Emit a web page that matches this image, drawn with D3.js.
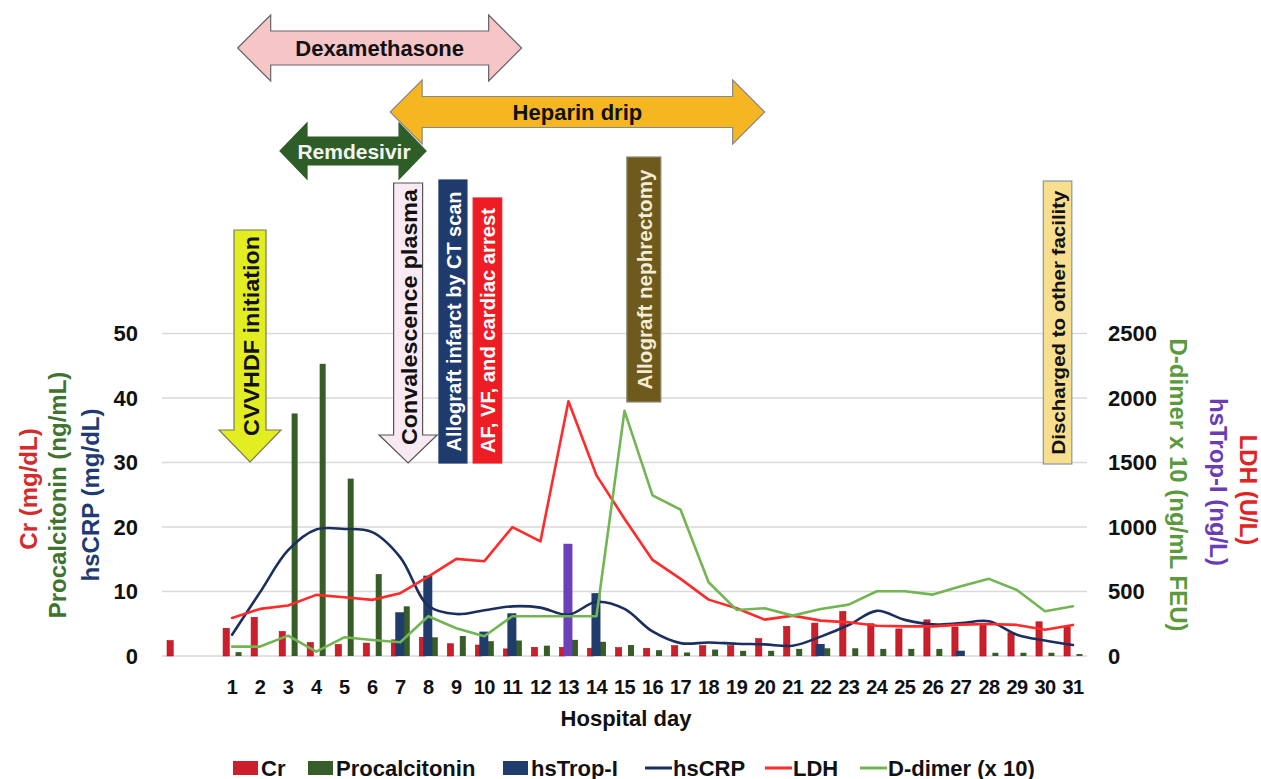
<!DOCTYPE html>
<html>
<head>
<meta charset="utf-8">
<script src="https://cdn.jsdelivr.net/npm/d3@7"></script>
<style>
  body { margin: 0; background: #fff; }
  svg text { font-family: "Liberation Sans", Arial, sans-serif; }
</style>
</head>
<body>
<svg id="chart" width="1261" height="779"></svg>
<script>
// ---------------- DATA ----------------
const categories = ["", " ", "1","2","3","4","5","6","7","8","9","10","11","12","13","14","15","16","17","18","19","20","21","22","23","24","25","26","27","28","29","30","31"];

// bar series (one value per category, null = no bar)
const crValues = [2.4, null, 4.3, 6.0, 3.8, 2.1, 1.8, 2.0, 2.5, 2.9, 1.9, 1.7, 1.1, 1.35, 1.35, 1.2, 1.3, 1.2, 1.6, 1.6, 1.6, 2.7, 4.6, 5.1, 6.9, 5.0, 4.2, 5.6, 4.5, 5.0, 3.6, 5.3, 4.6];
const procalcitoninValues = [null, null, 0.6, null, 37.6, 45.3, 27.5, 12.7, 7.7, 2.9, 3.1, 2.3, 2.4, 1.6, 2.5, 2.2, 1.7, 0.9, 0.55, 1.0, 0.8, 0.8, 1.1, 1.2, 1.2, 1.1, 1.1, 1.1, null, 0.5, 0.5, 0.5, 0.3];
const hsTropIValues = [null, null, null, null, null, null, null, null, 339, 623, null, 189, 331, null, 870, 487, null, null, null, null, null, null, null, 93, null, null, null, null, 41, null, null, null, null];
const hsTropIHighlightDay = "13";

// line series (days 1..31)
const lineDays = ["1","2","3","4","5","6","7","8","9","10","11","12","13","14","15","16","17","18","19","20","21","22","23","24","25","26","27","28","29","30","31"];
const hsCRPValues = [3.3, 9.9, 16.4, 19.6, 19.7, 19.2, 15.3, 7.8, 6.5, 7.1, 7.7, 7.5, 6.4, 8.4, 7.3, 3.8, 2.0, 2.1, 1.9, 1.8, 1.6, 3.0, 4.8, 7.0, 5.6, 4.9, 5.1, 5.4, 3.3, 2.4, 1.7];
const ldhValues = [295, 365, 391, 474, 456, 435, 487, 616, 753, 735, 999, 888, 1975, 1400, 1064, 745, 598, 437, 370, 282, 313, 274, 261, 235, 230, 230, 243, 248, 241, 204, 241];
const dDimerValues = [73, 73, 158, 34, 145, 124, 106, 308, 215, 153, 308, 308, 308, 308, 1900, 1245, 1134, 572, 357, 370, 313, 365, 398, 502, 502, 476, 541, 598, 512, 347, 386];

// axis ticks
const leftTicks = [0, 10, 20, 30, 40, 50];
const rightTicks = [0, 500, 1000, 1500, 2000, 2500];

// event annotations (day positions on the hospital-day axis)
const rangeEvents = [
  { label: "Dexamethasone", from: 1.2, to: 11.33 },
  { label: "Heparin drip", from: 6.64, to: 20.0 },
  { label: "Remdesivir", from: 2.71, to: 7.92 }
];
const pointEvents = [
  { label: "CVVHDF initiation", day: 1.64 },
  { label: "Convalescence plasma", day: 7.28 },
  { label: "Allograft infarct by CT scan", day: 8.88 },
  { label: "AF, VF, and cardiac arrest", day: 10.11 },
  { label: "Allograft nephrectomy", day: 15.69 },
  { label: "Discharged to other facility", day: 30.45 }
];

// ---------------- CHART ----------------
const svg = d3.select("#chart");
const plot = { left: 162, right: 1087, top: 333.5, bottom: 656 };

const x = d3.scaleBand().domain(categories).range([plot.left, plot.right]).paddingInner(0).paddingOuter(0);
const yL = d3.scaleLinear().domain([0, 50]).range([plot.bottom, plot.top]);
const yR = d3.scaleLinear().domain([0, 2500]).range([plot.bottom, plot.top]);
const cx = c => x(c) + x.bandwidth() / 2;
const dayX = d => cx("1") + (d - 1) * x.step();

// gridlines
svg.append("g").selectAll("line").data(leftTicks).join("line")
  .attr("x1", plot.left).attr("x2", plot.right)
  .attr("y1", d => yL(d)).attr("y2", d => yL(d))
  .attr("stroke", "#d9d9d9").attr("stroke-width", 1.3);

// left axis
const gL = svg.append("g").attr("transform", `translate(${plot.left - 24},0)`)
  .call(d3.axisLeft(yL).tickValues(leftTicks).tickFormat(d3.format("d")).tickSize(0).tickPadding(0));
gL.select(".domain").remove();
gL.selectAll("text").attr("font-size", 22).attr("font-weight", "bold").attr("fill", "#111")
  .attr("font-family", "Liberation Sans, Arial, sans-serif");

// right axis
const gR = svg.append("g").attr("transform", `translate(${plot.right + 21},0)`)
  .call(d3.axisRight(yR).tickValues(rightTicks).tickFormat(d3.format("d")).tickSize(0).tickPadding(0));
gR.select(".domain").remove();
gR.selectAll("text").attr("font-size", 22).attr("font-weight", "bold").attr("fill", "#111")
  .attr("font-family", "Liberation Sans, Arial, sans-serif");

// bottom axis
const gB = svg.append("g").attr("transform", `translate(0,${plot.bottom + 24})`)
  .call(d3.axisBottom(x).tickSize(0).tickPadding(0));
gB.select(".domain").remove();
gB.selectAll("text").attr("font-size", 20).attr("font-weight", "bold").attr("fill", "#111")
  .attr("font-family", "Liberation Sans, Arial, sans-serif").attr("letter-spacing", -0.6);

// axis titles
svg.append("text").attr("x", 626).attr("y", 726).attr("text-anchor", "middle")
  .attr("font-size", 22).attr("font-weight", "bold").attr("fill", "#111").text("Hospital day");

const leftTitles = [
  { t: "Cr (mg/dL)", x: 28, y: 489, c: "#d42a2a" },
  { t: "Procalcitonin (ng/mL)", x: 57, y: 495, c: "#3f7330" },
  { t: "hsCRP (mg/dL)", x: 90, y: 495, c: "#1f3b73" }
];
svg.append("g").selectAll("text").data(leftTitles).join("text")
  .attr("transform", d => `translate(${d.x},${d.y}) rotate(-90)`)
  .attr("text-anchor", "middle").attr("dominant-baseline", "central")
  .attr("font-size", 24).attr("font-weight", "bold").attr("fill", d => d.c).text(d => d.t);

const rightTitles = [
  { t: "D-dimer x 10 (ng/mL FEU)", x: 1178, y: 485, c: "#5a9a3c" },
  { t: "hsTrop-I (ng/L)", x: 1218, y: 482, c: "#6a3db5" },
  { t: "LDH (U/L)", x: 1248, y: 490, c: "#e02424" }
];
svg.append("g").selectAll("text").data(rightTitles).join("text")
  .attr("transform", d => `translate(${d.x},${d.y}) rotate(90)`)
  .attr("text-anchor", "middle").attr("dominant-baseline", "central")
  .attr("font-size", 24).attr("font-weight", "bold").attr("fill", d => d.c).text(d => d.t);

// ---------------- ANNOTATIONS ----------------
const ann = svg.append("g");

function hDoublePath(x1, x2, cy, bodyH, headH, headL) {
  const p = d3.path();
  p.moveTo(x1, cy);
  p.lineTo(x1 + headL, cy - headH / 2);
  p.lineTo(x1 + headL, cy - bodyH / 2);
  p.lineTo(x2 - headL, cy - bodyH / 2);
  p.lineTo(x2 - headL, cy - headH / 2);
  p.lineTo(x2, cy);
  p.lineTo(x2 - headL, cy + headH / 2);
  p.lineTo(x2 - headL, cy + bodyH / 2);
  p.lineTo(x1 + headL, cy + bodyH / 2);
  p.lineTo(x1 + headL, cy + headH / 2);
  p.closePath();
  return p.toString();
}
function vDownPath(cxp, top, tip, bodyW, headW, headL) {
  const p = d3.path();
  p.moveTo(cxp - bodyW / 2, top);
  p.lineTo(cxp + bodyW / 2, top);
  p.lineTo(cxp + bodyW / 2, tip - headL);
  p.lineTo(cxp + headW / 2, tip - headL);
  p.lineTo(cxp, tip);
  p.lineTo(cxp - headW / 2, tip - headL);
  p.lineTo(cxp - bodyW / 2, tip - headL);
  p.closePath();
  return p.toString();
}

const rangeStyles = {
  "Dexamethasone": { cy: 48, bodyH: 34, headH: 66, headL: 33, fill: "#f6c5c6", stroke: "#666", text: "#111", fs: 22 },
  "Heparin drip": { cy: 112, bodyH: 31, headH: 64, headL: 32, fill: "#f5b622", stroke: "#8a8a8a", text: "#111", fs: 22 },
  "Remdesivir": { cy: 151, bodyH: 28, headH: 56, headL: 27, fill: "#2f5d27", stroke: "#2f5d27", text: "#f4f4f4", fs: 21 }
};
rangeEvents.forEach(e => {
  const s = rangeStyles[e.label];
  const x1 = dayX(e.from), x2 = dayX(e.to);
  ann.append("path").attr("d", hDoublePath(x1, x2, s.cy, s.bodyH, s.headH, s.headL))
    .attr("fill", s.fill).attr("stroke", s.stroke).attr("stroke-width", 1.2);
  ann.append("text").attr("x", (x1 + x2) / 2 + (e.label === "Remdesivir" ? 1 : 0)).attr("y", s.cy)
    .attr("text-anchor", "middle").attr("dominant-baseline", "central")
    .attr("font-size", s.fs).attr("font-weight", "bold").attr("fill", s.text).text(e.label);
});

const pointStyles = {
  "CVVHDF initiation": { kind: "arrow", top: 230, tip: 462, bodyW: 32, headW: 62, headL: 32, fill: "#e3ee22", stroke: "#7a7a55", text: "#111", len: 200, fs: 22, weight: "bold" },
  "Convalescence plasma": { kind: "arrow", top: 183, tip: 463, bodyW: 29, headW: 58, headL: 28, fill: "#f8e9f2", stroke: "#555", text: "#111", len: 256, fs: 22, weight: "bold" },
  "Allograft infarct by CT scan": { kind: "rect", top: 180, bottom: 463, w: 28, fill: "#1f3b6e", stroke: "#1f3b6e", text: "#fff", len: 260, fs: 20, weight: "600" },
  "AF, VF, and cardiac arrest": { kind: "rect", top: 198, bottom: 463, w: 28.5, fill: "#ee1c25", stroke: "#ee1c25", text: "#fff", len: 245, fs: 20, weight: "600" },
  "Allograft nephrectomy": { kind: "rect", top: 157, bottom: 402, w: 34, fill: "#6e5a1c", stroke: "#8a8a70", text: "#f3ecd6", len: 220, fs: 20, weight: "600" },
  "Discharged to other facility": { kind: "rect", top: 181, bottom: 464, w: 28.5, fill: "#f8df8f", stroke: "#7f9aa8", text: "#111", len: 264, fs: 19, weight: "600" }
};
pointEvents.forEach(e => {
  const s = pointStyles[e.label];
  const px = dayX(e.day);
  let midY;
  if (s.kind === "arrow") {
    ann.append("path").attr("d", vDownPath(px, s.top, s.tip, s.bodyW, s.headW, s.headL))
      .attr("fill", s.fill).attr("stroke", s.stroke).attr("stroke-width", 1.2);
    midY = s.top + 6 + s.len / 2;
  } else {
    ann.append("rect").attr("x", px - s.w / 2).attr("y", s.top).attr("width", s.w).attr("height", s.bottom - s.top)
      .attr("fill", s.fill).attr("stroke", s.stroke).attr("stroke-width", 1.2);
    midY = (s.top + s.bottom) / 2;
  }
  ann.append("text").attr("transform", `translate(${px + 1},${midY}) rotate(-90)`)
    .attr("text-anchor", "middle").attr("dominant-baseline", "central")
    .attr("font-size", s.fs).attr("font-weight", s.weight).attr("fill", s.text)
    .attr("textLength", s.len).attr("lengthAdjust", "spacingAndGlyphs")
    .text(e.label);
});

// ---------------- BARS ----------------
const bars = svg.append("g");
const crData = categories.map((c, i) => ({ c, v: crValues[i] })).filter(d => d.v != null);
const pctData = categories.map((c, i) => ({ c, v: procalcitoninValues[i] })).filter(d => d.v != null);
const tropData = categories.map((c, i) => ({ c, v: hsTropIValues[i] })).filter(d => d.v != null);

bars.selectAll(".cr").data(crData).join("rect").attr("class", "cr")
  .attr("x", d => cx(d.c) - 9).attr("width", 6.2)
  .attr("y", d => yL(d.v)).attr("height", d => yL(0) - yL(d.v))
  .attr("fill", "#cc1f2c").attr("stroke", "#a8131d").attr("stroke-width", 0.6);

bars.selectAll(".pct").data(pctData).join("rect").attr("class", "pct")
  .attr("x", d => cx(d.c) + 3.5).attr("width", 6)
  .attr("y", d => yL(d.v)).attr("height", d => yL(0) - yL(d.v))
  .attr("fill", "#375e28");

bars.selectAll(".trop").data(tropData).join("rect").attr("class", "trop")
  .attr("x", d => cx(d.c) - 5).attr("width", 9)
  .attr("y", d => yR(d.v)).attr("height", d => yR(0) - yR(d.v))
  .attr("fill", d => d.c === hsTropIHighlightDay ? "#6b40b8" : "#1f3c6c");

// ---------------- LINES ----------------
const lines = svg.append("g").attr("fill", "none").attr("stroke-linejoin", "round").attr("stroke-linecap", "round");
const mk = (vals, scale, curve) => d3.line()
  .x((d, i) => cx(lineDays[i])).y(d => scale(d)).curve(curve)(vals);

lines.append("path").attr("d", mk(hsCRPValues, yL, d3.curveCatmullRom.alpha(0.5)))
  .attr("stroke", "#1b2f5e").attr("stroke-width", 2.6);
lines.append("path").attr("d", mk(ldhValues, yR, d3.curveLinear))
  .attr("stroke", "#ff2a2a").attr("stroke-width", 2.6);
lines.append("path").attr("d", mk(dDimerValues, yR, d3.curveLinear))
  .attr("stroke", "#72b552").attr("stroke-width", 2.6);

// ---------------- LEGEND ----------------
const legendItems = [
  { t: "Cr", kind: "rect", c: "#cc1f2c", x: 233 },
  { t: "Procalcitonin", kind: "rect", c: "#375e28", x: 308 },
  { t: "hsTrop-I", kind: "rect", c: "#1f3c6c", x: 503 },
  { t: "hsCRP", kind: "line", c: "#1b2f5e", x: 645 },
  { t: "LDH", kind: "line", c: "#ff2a2a", x: 765 },
  { t: "D-dimer (x 10)", kind: "line", c: "#72b552", x: 860 }
];
const lg = svg.append("g").attr("transform", "translate(0,768)");
legendItems.forEach(it => {
  if (it.kind === "rect") {
    lg.append("rect").attr("x", it.x).attr("y", -7).attr("width", 25).attr("height", 14).attr("fill", it.c);
  } else {
    lg.append("line").attr("x1", it.x).attr("x2", it.x + 27).attr("y1", 0).attr("y2", 0)
      .attr("stroke", it.c).attr("stroke-width", 3);
  }
  lg.append("text").attr("x", it.x + 28).attr("y", 0).attr("dominant-baseline", "central")
    .attr("font-size", 22).attr("font-weight", "bold").attr("fill", "#111").text(it.t);
});
</script>
</body>
</html>
